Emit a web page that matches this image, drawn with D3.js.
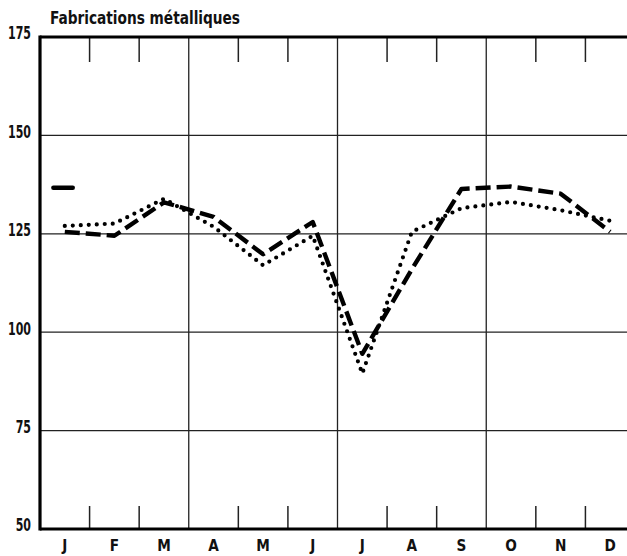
<!DOCTYPE html>
<html>
<head>
<meta charset="utf-8">
<script src="https://cdn.jsdelivr.net/npm/d3@7"></script>
<style>
  body { margin: 0; background: #fff; }
  svg text { font-family: "DejaVu Sans Condensed", "Liberation Sans Narrow", "Roboto", sans-serif; font-weight: bold; fill: #111; }
</style>
</head>
<body>
<svg id="chart" width="627" height="556"></svg>
<script>
// months and values
var months = ["J", "F", "M", "A", "M", "J", "J", "A", "S", "O", "N", "D"];
var dashedSeries = [125.5, 124.5, 133, 129.3, 119.8, 128, 94.5, 116, 136.4, 137, 135.2, 125.5];
var dottedSeries = [127, 127.6, 133.9, 126.8, 117, 124.5, 89.5, 125.5, 131.5, 133.1, 131, 128.3];
var yTicks = [50, 75, 100, 125, 150, 175];
var markerValue = 136.7;
var title = "Fabrications métalliques";

var svg = d3.select("#chart");

var x = d3.scaleLinear().domain([0, 12]).range([40, 635]);
var y = d3.scaleLinear().domain([50, 175]).range([529, 37]);

// horizontal grid
svg.selectAll("line.hgrid").data(yTicks.filter(function(d) { return d > 50 && d < 175; }))
  .enter().append("line")
  .attr("class", "hgrid")
  .attr("x1", x(0)).attr("x2", 627)
  .attr("y1", function(d) { return y(d); }).attr("y2", function(d) { return y(d); })
  .attr("stroke", "#222").attr("stroke-width", 1.3);

// month boundaries: quarters run full height, others are short ticks
var bounds = d3.range(1, 12);
bounds.forEach(function(i) {
  if (i % 3 == 0) {
    svg.append("line")
      .attr("x1", x(i)).attr("x2", x(i)).attr("y1", y(175)).attr("y2", y(50))
      .attr("stroke", "#222").attr("stroke-width", 1.3);
  } else {
    svg.append("line")
      .attr("x1", x(i)).attr("x2", x(i)).attr("y1", y(175)).attr("y2", y(175) + 25)
      .attr("stroke", "#222").attr("stroke-width", 1.5);
    svg.append("line")
      .attr("x1", x(i)).attr("x2", x(i)).attr("y1", y(50)).attr("y2", y(50) - 23)
      .attr("stroke", "#222").attr("stroke-width", 1.5);
  }
});

// frame (left, top, bottom)
svg.append("line").attr("x1", x(0)).attr("x2", x(0)).attr("y1", y(175) - 1.5).attr("y2", y(50) + 1.5)
  .attr("stroke", "#000").attr("stroke-width", 3.2);
svg.append("line").attr("x1", x(0)).attr("x2", 627).attr("y1", y(175)).attr("y2", y(175))
  .attr("stroke", "#000").attr("stroke-width", 3);
svg.append("line").attr("x1", x(0)).attr("x2", 627).attr("y1", y(50)).attr("y2", y(50))
  .attr("stroke", "#000").attr("stroke-width", 3);

// y labels (narrow, tall digits)
svg.selectAll("text.ylab").data(yTicks).enter().append("text")
  .attr("class", "ylab")
  .attr("transform", function(d) { return "translate(31," + (y(d) - 4) + ") scale(0.72,1)"; })
  .attr("text-anchor", "end").attr("dominant-baseline", "central")
  .attr("font-size", 17)
  .text(function(d) { return d; });

// month labels
svg.selectAll("text.mlab").data(months).enter().append("text")
  .attr("class", "mlab")
  .attr("transform", function(d, i) { return "translate(" + x(i + 0.5) + ",546) scale(0.95,1)"; })
  .attr("text-anchor", "middle").attr("dominant-baseline", "central")
  .attr("font-size", 16)
  .text(function(d) { return d; });

// title
svg.append("text").attr("x", 50).attr("y", 24).attr("font-size", 17)
  .attr("textLength", 190).attr("lengthAdjust", "spacingAndGlyphs")
  .text(title);

var line = d3.line()
  .x(function(d, i) { return x(i + 0.5); })
  .y(function(d) { return y(d); });

svg.append("path").datum(dottedSeries)
  .attr("d", line).attr("fill", "none")
  .attr("stroke", "#000").attr("stroke-width", 4.2)
  .attr("stroke-linecap", "round").attr("stroke-dasharray", "0,8");

svg.append("path").datum(dashedSeries)
  .attr("d", line).attr("fill", "none")
  .attr("stroke", "#000").attr("stroke-width", 4.4)
  .attr("stroke-linejoin", "round").attr("stroke-dasharray", "15,6");

// short reference mark at left
svg.append("line")
  .attr("x1", x(0.27)).attr("x2", x(0.66))
  .attr("y1", y(markerValue)).attr("y2", y(markerValue))
  .attr("stroke", "#000").attr("stroke-width", 4.5).attr("stroke-linecap", "round");
</script>
</body>
</html>
